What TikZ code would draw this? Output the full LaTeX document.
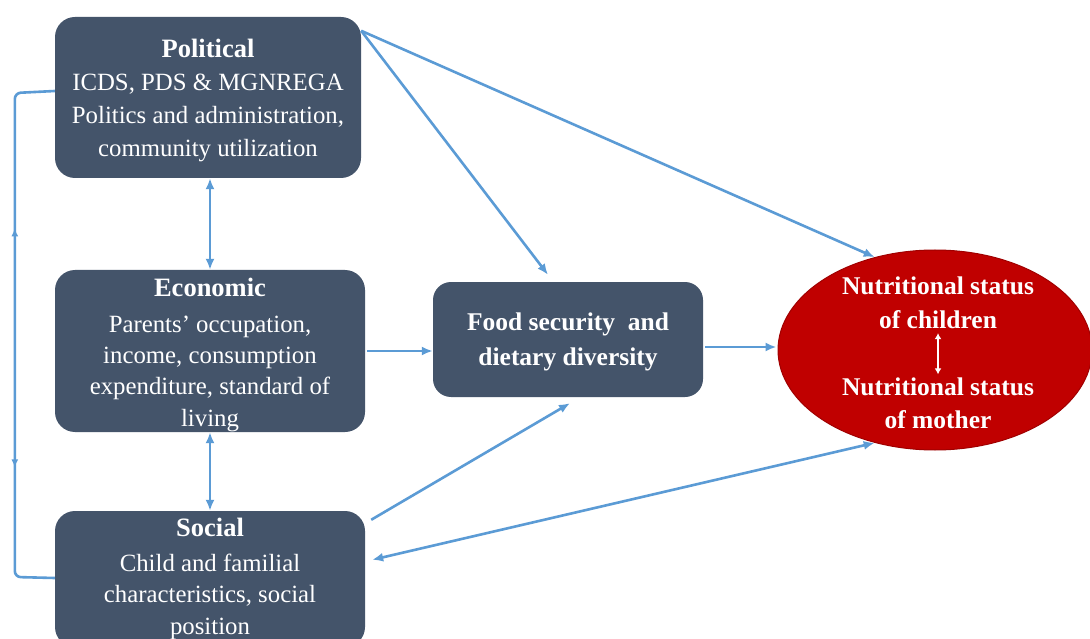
\documentclass[tikz,border=0pt]{standalone}
\usepackage{fontspec}
\setmainfont{Liberation Serif}
\usetikzlibrary{arrows.meta,calc,shapes.geometric,decorations.markings}
\definecolor{boxc}{RGB}{68,84,106}
\definecolor{arrc}{RGB}{91,155,213}
\definecolor{redc}{RGB}{192,0,0}
\definecolor{redb}{RGB}{160,0,0}
\begin{document}
\begin{tikzpicture}[x=1pt,y=-1pt,
  boxnode/.style={fill=boxc, rounded corners=20pt, inner sep=0pt},
  txt/.style={text=white, align=center, inner sep=0pt},
  conn/.style={draw=arrc, line width=2.6pt},
  arr/.style={conn, -{Latex[length=11pt,width=9pt]}},
  darr/.style={conn, {Latex[length=11pt,width=9pt]}-{Latex[length=11pt,width=9pt]}},
  warr/.style={draw=white, line width=1.8pt, {Latex[length=6pt,width=7pt]}-{Latex[length=6pt,width=7pt]}}
]
\useasboundingbox (0,0) rectangle (1090,639);
\clip (0,0) rectangle (1090,639);
\fill[white] (0,0) rectangle (1090,639);

% boxes
\node[boxnode, minimum width=306pt, minimum height=161pt] (pol) at (208,97.5) {};
\node[boxnode, minimum width=310pt, minimum height=162pt] (eco) at (210,351) {};
\node[boxnode, minimum width=310pt, minimum height=136pt] (soc) at (210,579) {};
\node[boxnode, rounded corners=18pt, minimum width=270pt, minimum height=115pt] (food) at (568,339.5) {};
\node[ellipse, fill=redc, draw=redb, line width=1pt, minimum width=314pt, minimum height=200pt, inner sep=0pt] (nut) at (935,350) {};

% texts
\node[txt, font=\fontsize{24.8}{33}\selectfont] (polT) at (208,100)
  {{\fontsize{26.5}{33}\selectfont\bfseries Political}\\ ICDS, PDS \& MGNREGA\\ Politics and administration,\\ community utilization};
\node[txt, font=\fontsize{24.8}{31.3}\selectfont] (ecoT) at (210,355)
  {{\fontsize{26.5}{31.3}\selectfont\bfseries Economic}\\[4pt] Parents’ occupation,\\ income, consumption\\ expenditure, standard of\\ living};
\node[txt, font=\fontsize{24.8}{31.5}\selectfont] (socT) at (210,579)
  {{\fontsize{26.5}{31.5}\selectfont\bfseries Social}\\[3pt] Child and familial\\ characteristics, social\\ position};
\node[txt, font=\fontsize{25.5}{35}\selectfont\bfseries] (foodT) at (568,342)
  {Food security\ \ and\\ dietary diversity};
\node[txt, font=\fontsize{25.5}{34}\selectfont\bfseries] (nc) at (938,303)
  {Nutritional status\\ of children};
\node[txt, font=\fontsize{25.5}{33}\selectfont\bfseries] (nm) at (938,403)
  {Nutritional status\\ of mother};

% connectors
\draw[arr] ($(pol.north east)+(0,14)$) -- (nut.123);
\draw[arr] ($(pol.north east)+(0,14)$) -- ($(food.north)+(-20,-7)$);
\draw[darr] ($(pol.south)+(2,0)$) -- (eco.north);
\draw[darr] (eco.south) -- (soc.north);
\draw[arr, shorten <=2pt] (eco.east) -- (eco.east -| food.west);
\draw[arr] ($(food.east)+(2,7.5)$) -- ($(nut.west)+(-1,-3)$);
\draw[arr] ($(soc.north east)+(6,9)$) -- ($(food.south)+(2,6)$);
\draw[darr] ($(soc.north east)+(7,49)$) -- (nut.237);
\draw[warr] ($(nc.south)+(0,4)$) -- ($(nm.north)+(0,-3)$);

% left feedback loop
\draw[conn, rounded corners=6pt,
  decoration={markings,
    mark=at position 173pt with {\arrowreversed{Latex[length=8pt,width=7pt]}},
    mark=at position 412pt with {\arrow{Latex[length=8pt,width=7pt]}}},
  postaction={decorate}]
  ($(pol.west)+(0,-6.5)$) -- ($(pol.west)+(-40,-4.5)$) -- ($(soc.west)+(-40,-2)$) -- ($(soc.west)+(0,-1)$);
\end{tikzpicture}
\end{document}
